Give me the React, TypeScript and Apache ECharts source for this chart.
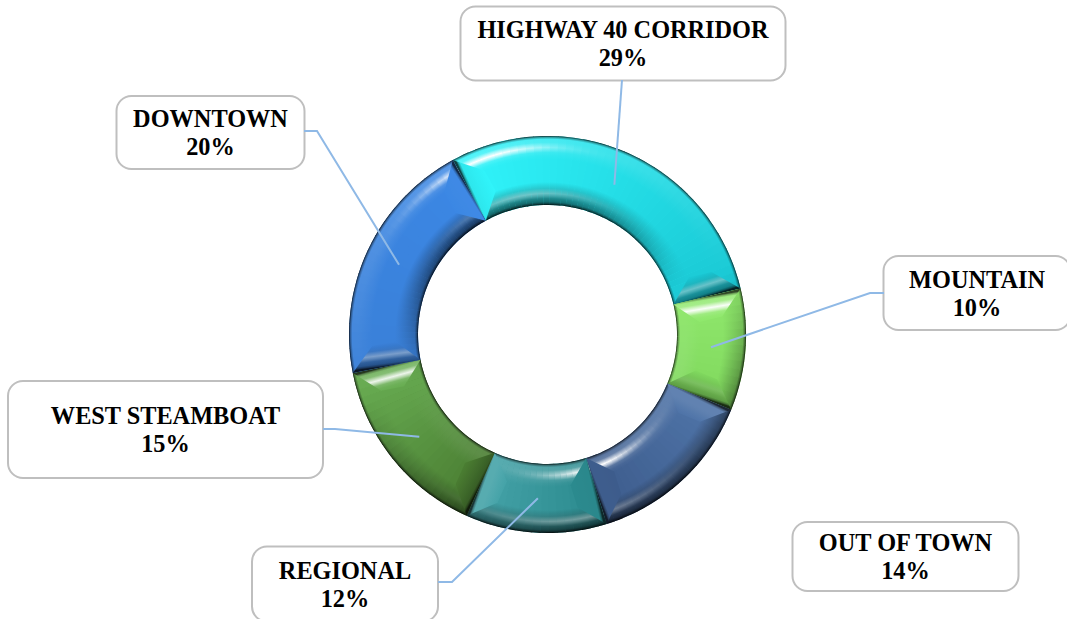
import React, { useEffect, useRef } from "react";
import * as echarts from "echarts";

const categories = ["HIGHWAY 40 CORRIDOR", "MOUNTAIN", "OUT OF TOWN", "REGIONAL", "WEST STEAMBOAT", "DOWNTOWN"];
const shares = [29.2, 9.9, 14, 11.5, 15.2, 20.2];

// styling tables
const startColors = ["#30f4fa", "#8fe86c", "#4f74a8", "#2b8a8e", "#4a7d32", "#3a80d8"];
const endColors = ["#1ac8d4", "#80d85e", "#3d5c8c", "#45a3a8", "#68ad52", "#3b87e4"];
const boxCenters = [[623, 43.5], [977, 293], [905.5, 556.5], [345, 584], [165.5, 429.5], [210.5, 132.5]];
const boxSizes = [[323, 70], [185, 70], [224, 65], [184, 71], [313, 93], [186, 69]];
const leaderElbows: (number[][] | null)[] = [
  [[622, 80]],
  [[884, 293], [870, 293]],
  null,
  [[438, 582], [452, 582]],
  [[323, 429], [335, 429]],
  [[304, 131], [317, 131]],
];

const CX = 547.5, CY = 334.5, RO = 198.5, RI = 129.5, BEVEL = 23, START = -28.5;
const LIGHT = -20;
const rad = (d: number) => (d * Math.PI) / 180;
const rgb = (h: string) => [1, 3, 5].map((i) => parseInt(h.slice(i, i + 2), 16));
const mix = (a: number[], b: number[], t: number) => a.map((v, i) => v + (b[i] - v) * Math.min(1, Math.max(0, t)));
const css = (c: number[]) => `rgb(${c.map((v) => Math.round(v)).join(",")})`;
const WHITE = [255, 255, 255], BLACK = [0, 0, 0];
const pt = (theta: number, r: number) => [CX + r * Math.sin(rad(theta)), CY - r * Math.cos(rad(theta))];

const total = shares.reduce((a, b) => a + b, 0);
const startAngles = shares.map((_, i) => START + (shares.slice(0, i).reduce((a, b) => a + b, 0) / total) * 360);

// colour of a bevelled surface: normal = compass angle of facing, f = 1 at rim, 0 where the bevel meets the top
function bevelColor(base: number[], normal: number, f: number, dark: number, rimDark: number) {
  const n = Math.cos(rad(normal - LIGHT));
  const back = Math.cos(rad(normal - 170));
  let c = n >= 0 ? mix(base, WHITE, n * 0.14 * Math.min(1, f * 1.6)) : mix(base, BLACK, -n * dark * Math.pow(f, 1.1));
  const band = Math.exp(-Math.pow((f - 0.5) / 0.14, 2));
  c = mix(c, WHITE, Math.min(1, Math.pow(Math.max(0, n), 16) * 1.05) * band);
  c = mix(c, WHITE, Math.pow(Math.max(0, back), 8) * 0.36 * band);
  const rim = Math.max(0, (f - 0.9) / 0.1);
  return mix(c, BLACK, rim * rimDark);
}
const FS = [1, 0.94, 0.86, 0.72, 0.6, 0.5, 0.4, 0.28, 0.14, 0];

function renderBevel(params: any, api: any) {
  const i = params.dataIndex;
  const a0 = startAngles[i];
  const a1 = a0 + (api.value(0) / total) * 360;
  const A = rgb(startColors[i]), B = rgb(endColors[i]);
  const baseAt = (t: number) => mix(A, B, t);
  const children: any[] = [];
  const steps = Math.ceil((a1 - a0) / 2.5);
  for (let s = 0; s < steps; s++) {
    const t0 = a0 + ((a1 - a0) * s) / steps;
    const t1 = a0 + ((a1 - a0) * (s + 1)) / steps;
    const mid = (t0 + t1) / 2;
    const base = baseAt((mid - a0) / (a1 - a0));
    const stops: any[] = [];
    [...FS].forEach((f) => stops.push({ offset: (RI + (1 - f) * BEVEL) / RO, color: css(bevelColor(base, mid + 180, f, 0.66, 0.8)) }));
    [...FS].reverse().forEach((f) => stops.push({ offset: (RO - (1 - f) * BEVEL) / RO, color: css(bevelColor(base, mid, f, 0.66, 0.8)) }));
    children.push({
      type: "sector",
      shape: {
        cx: CX, cy: CY, r: RO, r0: RI,
        startAngle: rad(t0 - 90 - (s > 0 ? 0.15 : 0)),
        endAngle: rad(t1 - 90),
        clockwise: true,
      },
      style: { fill: new echarts.graphic.RadialGradient(CX, CY, RO, stops, true) },
    });
  }
  // mitred end facets
  [[a0, 1], [a1, -1]].forEach(([edge, dir]) => {
    const dO = (dir * BEVEL) / (RO - BEVEL) * (180 / Math.PI);
    const dI = (dir * BEVEL) / (RI + BEVEL) * (180 / Math.PI);
    const midR = (RO + RI) / 2;
    const normal = edge - dir * 90;
    const base = baseAt(dir > 0 ? 0 : 1);
    const p0 = pt(edge, midR);
    const p1 = pt(edge + (dir * BEVEL) / midR * (180 / Math.PI), midR);
    const stops = [...FS].map((f) => ({ offset: 1 - f, color: css(bevelColor(base, normal, f, 0.42, 0.7)) }));
    children.push({
      type: "polygon",
      shape: { points: [pt(edge, RO), pt(edge, RI), pt(edge + dI, RI + BEVEL), pt(edge + dO, RO - BEVEL)] },
      style: { fill: new echarts.graphic.LinearGradient(p0[0], p0[1], p1[0], p1[1], stops, true) },
    });
  });
  // leader line from mid-ring
  const elbow = leaderElbows[i];
  if (elbow) {
    const m = pt((a0 + a1) / 2, (RO + RI) / 2);
    children.push({
      type: "polyline",
      z2: 50,
      shape: { points: [...elbow, m] },
      style: { stroke: "#8fb9e6", lineWidth: 2, fill: "none" },
    });
  }
  return { type: "group", children };
}

export default function App() {
  const ref = useRef<HTMLDivElement>(null);
  useEffect(() => {
    document.body.style.margin = "0";
    const chart = echarts.init(ref.current!, undefined, { renderer: "svg" });
    chart.setOption({
      animation: false,
      backgroundColor: "#ffffff",
      series: [
        {
          type: "pie",
          z: 1,
          center: [CX, CY],
          radius: [RI, RO],
          startAngle: 90 - START,
          clockwise: true,
          avoidLabelOverlap: false,
          silent: true,
          data: categories.map((name, i) => ({
            name,
            value: shares[i],
            itemStyle: { color: startColors[i] },
            label: { width: boxSizes[i][0], height: boxSizes[i][1] },
          })),
          label: {
            show: true,
            position: "outside",
            formatter: (p: any) => `${p.name}\n${Math.round(p.value)}%`,
            fontFamily: "Liberation Serif",
            fontWeight: "bold",
            fontSize: 24.3,
            lineHeight: 28,
            color: "#000000",
            align: "center",
            verticalAlign: "middle",
            overflow: "none",
            padding: [2, 0, 0, 0],
            backgroundColor: "#ffffff",
            borderColor: "#bfbfbf",
            borderWidth: 2,
            borderRadius: 14,
          },
          labelLine: { show: false },
          labelLayout: (p: any) => ({
            x: boxCenters[p.dataIndex][0],
            y: boxCenters[p.dataIndex][1],
            align: "center",
            verticalAlign: "middle",
          }),
        },
        {
          type: "custom",
          z: 2,
          coordinateSystem: "none",
          silent: true,
          data: shares,
          renderItem: renderBevel,
        },
      ],
    });
    return () => chart.dispose();
  }, []);
  return <div ref={ref} style={{ position: "absolute", left: 0, top: 0, width: 1067, height: 619 }} />;
}
